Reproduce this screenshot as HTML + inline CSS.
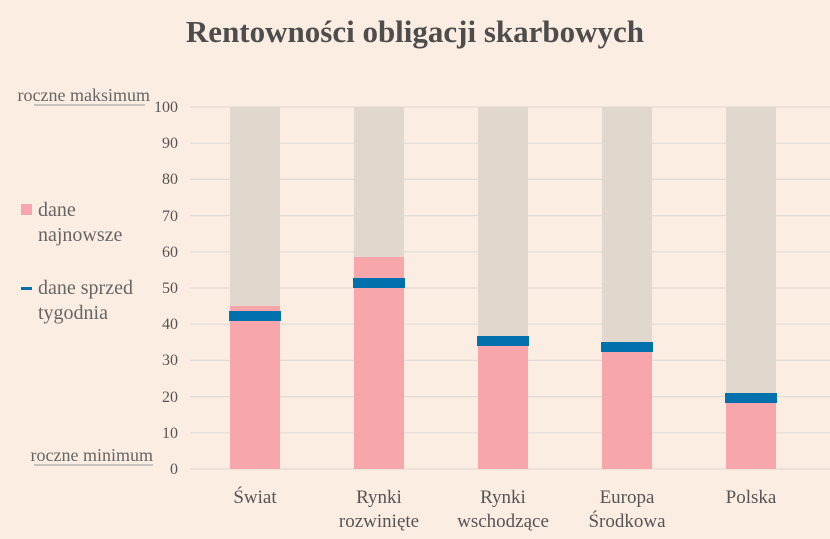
<!DOCTYPE html>
<html><head><meta charset="utf-8"><style>
html,body{margin:0;padding:0;background:#fbede1;}
svg{display:block;font-family:"Liberation Serif",serif;}
</style></head><body>
<svg width="830" height="539" viewBox="0 0 830 539" xmlns="http://www.w3.org/2000/svg">
<rect width="830" height="539" fill="#fbede1"/>
<text x="415" y="42" text-anchor="middle" font-size="31" font-weight="bold" fill="#4d4d4d">Rentowności obligacji skarbowych</text>
<g stroke="#e2dcd6" stroke-width="1.2">
<line x1="190" x2="830" y1="107" y2="107"/><line x1="190" x2="830" y1="143.2" y2="143.2"/>
<line x1="190" x2="830" y1="179.4" y2="179.4"/><line x1="190" x2="830" y1="215.6" y2="215.6"/>
<line x1="190" x2="830" y1="251.8" y2="251.8"/><line x1="190" x2="830" y1="288" y2="288"/>
<line x1="190" x2="830" y1="324.2" y2="324.2"/><line x1="190" x2="830" y1="360.4" y2="360.4"/>
<line x1="190" x2="830" y1="396.6" y2="396.6"/><line x1="190" x2="830" y1="432.8" y2="432.8"/>
<line x1="190" x2="830" y1="469" y2="469"/>
</g>
<g font-size="16" fill="#555" text-anchor="end">
<text x="178" y="112">100</text><text x="178" y="148">90</text><text x="178" y="184">80</text>
<text x="178" y="221">70</text><text x="178" y="257">60</text><text x="178" y="293">50</text>
<text x="178" y="329">40</text><text x="178" y="365">30</text><text x="178" y="402">20</text>
<text x="178" y="438">10</text><text x="178" y="474">0</text>
</g>
<text x="150" y="101" text-anchor="end" font-size="18" fill="#666">roczne maksimum</text>
<line x1="34" x2="145" y1="105" y2="105" stroke="#999" stroke-width="1"/>
<text x="153" y="461" text-anchor="end" font-size="18" fill="#666">roczne minimum</text>
<line x1="34" x2="153" y1="465" y2="465" stroke="#999" stroke-width="1"/>
<rect x="21" y="204" width="11" height="11" fill="#f7a6ab"/>
<text x="38" y="216" font-size="20" fill="#666">dane</text>
<text x="38" y="241" font-size="20" fill="#666">najnowsze</text>
<rect x="21" y="287" width="11" height="3" fill="#0071ad"/>
<text x="38" y="294" font-size="20" fill="#666">dane sprzed</text>
<text x="38" y="319" font-size="20" fill="#666">tygodnia</text>
<g fill="#e1d7cc">
<rect x="230" y="107" width="50" height="362"/><rect x="354" y="107" width="50" height="362"/>
<rect x="478" y="107" width="50" height="362"/><rect x="602" y="107" width="50" height="362"/>
<rect x="726" y="107" width="50" height="362"/>
</g>
<g fill="#f7a6ab">
<rect x="230" y="306" width="50" height="163"/><rect x="354" y="257" width="50" height="212"/>
<rect x="478" y="346" width="50" height="123"/><rect x="602" y="352" width="50" height="117"/>
<rect x="726" y="403" width="50" height="66"/>
</g>
<g fill="#0071ad">
<rect x="229" y="311" width="52" height="10"/><rect x="353" y="278" width="52" height="10"/>
<rect x="477" y="336" width="52" height="10"/><rect x="601" y="342" width="52" height="10"/>
<rect x="725" y="393" width="52" height="10"/>
</g>
<g font-size="19" fill="#555" text-anchor="middle">
<text x="255" y="503">Świat</text>
<text x="379" y="503">Rynki</text><text x="379" y="527">rozwinięte</text>
<text x="503" y="503">Rynki</text><text x="503" y="527">wschodzące</text>
<text x="627" y="503">Europa</text><text x="627" y="527">Środkowa</text>
<text x="751" y="503">Polska</text>
</g>
</svg>
</body></html>
